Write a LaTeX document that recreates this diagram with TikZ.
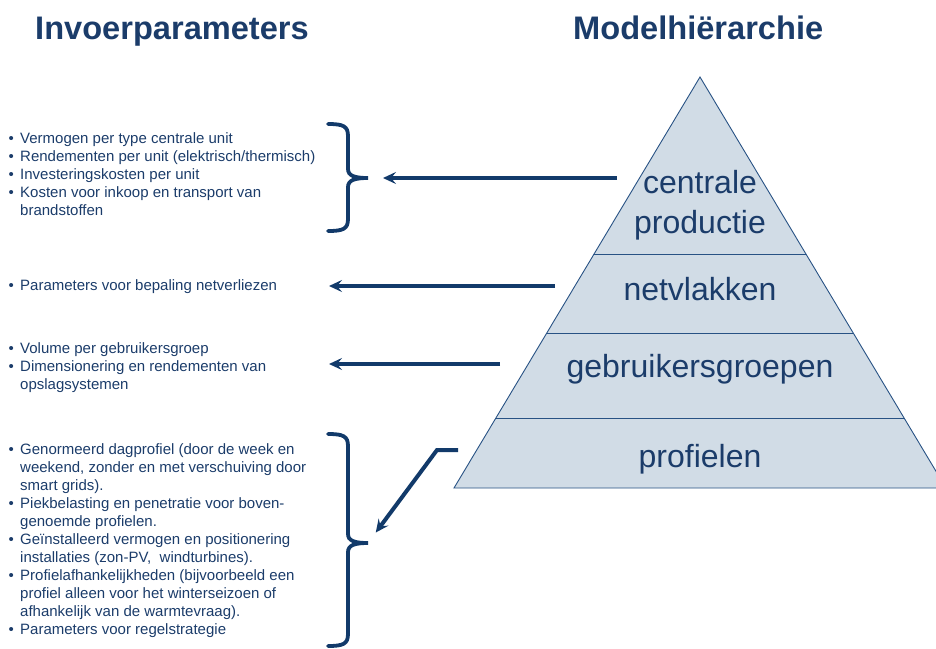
\documentclass[tikz,border=0pt]{standalone}
\usepackage{fontspec}
\setmainfont{Liberation Sans}
\usetikzlibrary{arrows.meta}
\definecolor{navy}{RGB}{18,58,106}
\definecolor{txt}{RGB}{27,60,106}
\definecolor{pyrfill}{RGB}{209,220,230}
\definecolor{pyrline}{RGB}{40,82,132}
\newcommand\bul{\makebox[12pt][l]{\hspace{0.5pt}•}}
\newcommand\cnt{\hspace*{12pt}}
\begin{document}
\begin{tikzpicture}[x=1pt,y=-1pt,
  title/.style={font=\fontsize{32.6}{36}\selectfont\bfseries, text=txt, anchor=base west, inner sep=0},
  body/.style={font=\fontsize{15}{18}\selectfont, text=txt, anchor=base west, inner sep=0},
  level/.style={font=\fontsize{32}{40}\selectfont, text=txt, anchor=base, inner sep=0},
  conn/.style={draw=navy, line width=4pt, -{Stealth[length=13pt,width=12pt,inset=5pt]}},
  bracepath/.style={draw=navy, line width=3.8pt, line cap=round},
]
\useasboundingbox (0,0) rectangle (936,648);

% titles
\node[title] (t1) at (35,39) {Invoerparameters};
\node[title] (t2) at (573,39) {Modelhiërarchie};

% pyramid
\begin{scope}
\clip (0,0) rectangle (936,648);
\path[fill=pyrfill, draw=pyrline, line width=0.9pt] (700,77) -- (946,488) -- (454,488) -- cycle;
\draw[pyrline, line width=0.9pt] (594.0,254) -- (806.0,254);
\draw[pyrline, line width=0.9pt] (546.8,333) -- (853.2,333);
\draw[pyrline, line width=0.9pt] (495.9,418) -- (904.1,418);
\end{scope}

\node[level] (l1) at (700,193) {\begin{tabular}[t]{@{}c@{}}centrale\\productie\end{tabular}};
\node[level] (l2) at (700,300) {netvlakken};
\node[level] (l3) at (700,377) {gebruikersgroepen};
\node[level] (l4) at (700,467) {profielen};

% input text blocks
\node[body] (in1) at (8,143) {\begin{tabular}[t]{@{}l@{}}
\bul Vermogen per type centrale unit\\
\bul Rendementen per unit (elektrisch/thermisch)\\
\bul Investeringskosten per unit\\
\bul Kosten voor inkoop en transport van\\
\cnt brandstoffen\end{tabular}};
\node[body] (in2) at (8,290) {\bul Parameters voor bepaling netverliezen};
\node[body] (in3) at (8,353) {\begin{tabular}[t]{@{}l@{}}
\bul Volume per gebruikersgroep\\
\bul Dimensionering en rendementen van\\
\cnt opslagsystemen\end{tabular}};
\node[body] (in4) at (8,454) {\begin{tabular}[t]{@{}l@{}}
\bul Genormeerd dagprofiel (door de week en\\
\cnt weekend, zonder en met verschuiving door\\
\cnt smart grids).\\
\bul Piekbelasting en penetratie voor boven-\\
\cnt genoemde profielen.\\
\bul Geïnstalleerd vermogen en positionering\\
\cnt installaties (zon-PV, \ windturbines).\\
\bul Profielafhankelijkheden (bijvoorbeeld een\\
\cnt profiel alleen voor het winterseizoen of\\
\cnt afhankelijk van de warmtevraag).\\
\bul Parameters voor regelstrategie\end{tabular}};

% braces
\coordinate (b1) at (368,178);
\draw[bracepath] (328,124) .. controls (343,124) and (348,126) .. (348,136) -- (348,169)
  .. controls (348,176) and (355,178) .. (b1)
  .. controls (355,178) and (348,180) .. (348,187) -- (348,219)
  .. controls (348,229) and (343,231) .. (328,231);
\coordinate (b2) at (368,543);
\draw[bracepath] (328,434) .. controls (343,434) and (348,436) .. (348,446) -- (348,534)
  .. controls (348,541) and (355,543) .. (b2)
  .. controls (355,543) and (348,545) .. (348,552) -- (348,634)
  .. controls (348,644) and (343,646) .. (328,646);

% connectors
\coordinate (s1) at (617,178);
\draw[conn, shorten >=15pt] (s1) -- (b1);
\coordinate (s2) at (555,286);
\coordinate (e2) at (329,286);
\draw[conn] (s2) -- (e2);
\coordinate (s3) at (500,364);
\coordinate (e3) at (329,364);
\draw[conn] (s3) -- (e3);
\coordinate (s4) at (458,450);
\coordinate (k4) at (437,450);
\draw[conn, shorten >=13pt] (s4) -- (k4) -- (b2);
\end{tikzpicture}
\end{document}
